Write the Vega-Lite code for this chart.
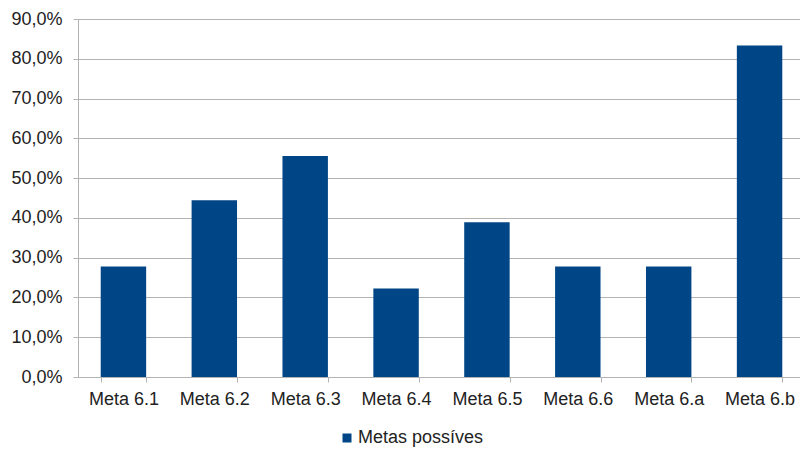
{
  "$schema": "https://vega.github.io/schema/vega-lite/v6.json",
  "width": 727,
  "height": 358,
  "autosize": {"type": "none"},
  "padding": {"left": 78, "top": 19, "right": 0, "bottom": 75},
  "background": "white",
  "config": {
    "view": {"stroke": null},
    "font": "Liberation Sans"
  },
  "data": {
    "values": [
      {"meta": "Meta 6.1", "valor": 0.2778, "serie": "Metas possíves"},
      {"meta": "Meta 6.2", "valor": 0.4444, "serie": "Metas possíves"},
      {"meta": "Meta 6.3", "valor": 0.5556, "serie": "Metas possíves"},
      {"meta": "Meta 6.4", "valor": 0.2222, "serie": "Metas possíves"},
      {"meta": "Meta 6.5", "valor": 0.3889, "serie": "Metas possíves"},
      {"meta": "Meta 6.6", "valor": 0.2778, "serie": "Metas possíves"},
      {"meta": "Meta 6.a", "valor": 0.2778, "serie": "Metas possíves"},
      {"meta": "Meta 6.b", "valor": 0.8333, "serie": "Metas possíves"}
    ]
  },
  "mark": {"type": "bar"},
  "encoding": {
    "x": {
      "field": "meta",
      "type": "nominal",
      "sort": null,
      "scale": {"paddingInner": 0.5, "paddingOuter": 0.25},
      "axis": {
        "title": null,
        "labelAngle": 0,
        "labelFont": "Liberation Sans",
        "labelFontSize": 18,
        "labelColor": "#222222",
        "labelPadding": 8,
        "tickBand": "extent",
        "tickSize": 5,
        "tickColor": "#b3b3b3",
        "domainColor": "#b3b3b3",
        "grid": false
      }
    },
    "y": {
      "field": "valor",
      "type": "quantitative",
      "scale": {"domain": [0, 0.9], "nice": false},
      "axis": {
        "title": null,
        "values": [0, 0.1, 0.2, 0.3, 0.4, 0.5, 0.6, 0.7, 0.8, 0.9],
        "labelExpr": "replace(format(datum.value, '.1%'), '.', ',')",
        "labelFont": "Liberation Sans",
        "labelFontSize": 18,
        "labelColor": "#222222",
        "labelPadding": 11,
        "tickSize": 5,
        "tickColor": "#b3b3b3",
        "domainColor": "#b3b3b3",
        "gridColor": "#b3b3b3",
        "gridWidth": 1
      }
    },
    "color": {
      "field": "serie",
      "type": "nominal",
      "scale": {"range": ["#004586"]},
      "legend": {
        "title": null,
        "orient": "none",
        "legendX": 260,
        "legendY": 410,
        "symbolType": "square",
        "symbolSize": 81,
        "symbolStrokeWidth": 0,
        "labelFont": "Liberation Sans",
        "labelFontSize": 18,
        "labelColor": "#222222",
        "labelOffset": 2
      }
    }
  }
}
